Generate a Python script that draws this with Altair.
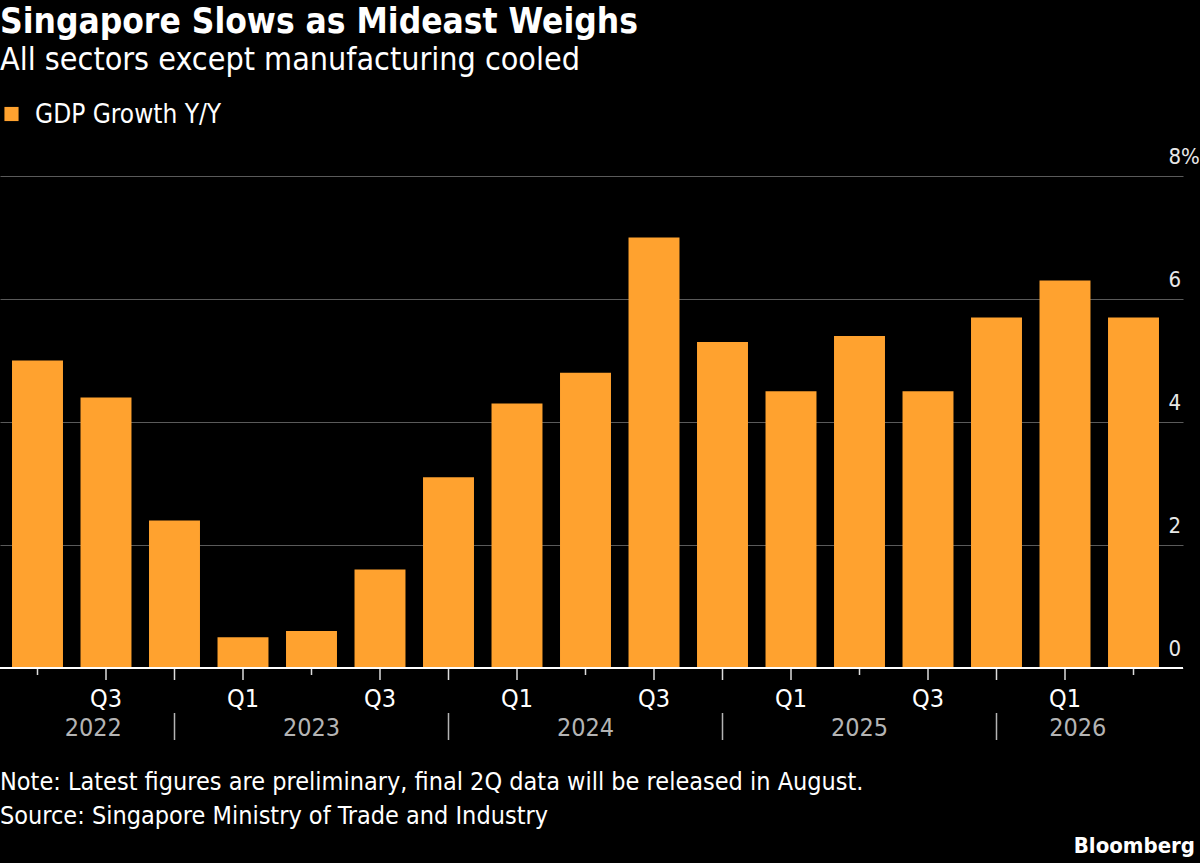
import altair as alt
import pandas as pd

# Quarterly real GDP growth, year over year (%)
years = [2022, 2022, 2022,
         2023, 2023, 2023, 2023,
         2024, 2024, 2024, 2024,
         2025, 2025, 2025, 2025,
         2026, 2026]
quarters = ["Q2", "Q3", "Q4",
            "Q1", "Q2", "Q3", "Q4",
            "Q1", "Q2", "Q3", "Q4",
            "Q1", "Q2", "Q3", "Q4",
            "Q1", "Q2"]
growth = [5.0, 4.4, 2.4,
          0.5, 0.6, 1.6, 3.1,
          4.3, 4.8, 7.0, 5.3,
          4.5, 5.4, 4.5, 5.7,
          6.3, 5.7]

y_ticks = [0, 2, 4, 6, 8]

title = "Singapore Slows as Mideast Weighs"
subtitle = "All sectors except manufacturing cooled"
series_name = "GDP Growth Y/Y"
note = "Note: Latest figures are preliminary, final 2Q data will be released in August."
source = "Source: Singapore Ministry of Trade and Industry"
brand = "Bloomberg"

ORANGE = "#FFA22F"
FONT = "DejaVu Sans Condensed, Liberation Sans Narrow, Roboto, sans-serif"

W, H = 1183, 492
HALF = 0.372  # half bar width in slot units
X_DOMAIN = [-0.5474, 16.7226]

df = pd.DataFrame({"year": years, "quarter": quarters, "growth": growth})
df["i"] = range(len(df))

# Year separators sit on the Q4 slots; year names are centred in each span
seps = df[df["quarter"] == "Q4"]["i"].tolist()
year_rows = []
for y in sorted(set(years)):
    idx = df[df["year"] == y]["i"]
    left = max([s for s in seps if s < idx.min()], default=idx.min() - HALF)
    right = min([s for s in seps if s >= idx.max()], default=idx.max() + HALF)
    if y == years[0]:
        left = idx.min() - HALF
    year_rows.append({"year": str(y), "pos": (left + right) / 2})
year_df = pd.DataFrame(year_rows)
sep_df = pd.DataFrame({"i": seps})

xs = alt.Scale(domain=X_DOMAIN, nice=False, zero=False, padding=0)
ys = alt.Scale(domain=[0, 8], nice=False, padding=0)

bars = alt.Chart(df).transform_calculate(
    x0=f"datum.i - {HALF}", x1=f"datum.i + {HALF}", base="0"
).mark_bar(color=ORANGE, orient="vertical").encode(
    x=alt.X("x0:Q", scale=xs, axis=None),
    x2="x1:Q",
    y=alt.Y("growth:Q", scale=ys, axis=alt.Axis(
        orient="right", values=y_ticks, format="d", grid=True, gridColor="#5a5a5a",
        gridWidth=1.2, domain=False, ticks=False, labelColor="#e8e8e8",
        labelFont=FONT, labelFontSize=22, labelAlign="left",
        labelBaseline="alphabetic", labelPadding=-15, labelOffset=-13,
        labelExpr="datum.value == 8 ? '8%' : datum.label", title=None)),
    y2="base:Q",
)

baseline = alt.Chart(pd.DataFrame({"a": [X_DOMAIN[0]], "b": [X_DOMAIN[1]], "v": [0]})).mark_rule(
    color="#ffffff", strokeWidth=2
).encode(x=alt.X("a:Q", scale=xs), x2="b:Q", y=alt.Y("v:Q", scale=ys))

long_ticks = alt.Chart(df[df["quarter"] != "Q2"]).mark_rule(color="#dddddd", strokeWidth=1.5).encode(
    x=alt.X("i:Q", scale=xs), y=alt.value(H + 1), y2=alt.value(H + 12))
short_ticks = alt.Chart(df[df["quarter"] == "Q2"]).mark_rule(color="#dddddd", strokeWidth=1.5).encode(
    x=alt.X("i:Q", scale=xs), y=alt.value(H + 1), y2=alt.value(H + 7))

q_labels = alt.Chart(df[df["quarter"].isin(["Q1", "Q3"])]).mark_text(
    color="#ffffff", font=FONT, fontSize=25, baseline="alphabetic", align="center"
).encode(x=alt.X("i:Q", scale=xs), y=alt.value(H + 39), text="quarter:N")

year_labels = alt.Chart(year_df).mark_text(
    color="#b4b4b4", font=FONT, fontSize=25, baseline="alphabetic", align="center"
).encode(x=alt.X("pos:Q", scale=xs), y=alt.value(H + 68), text="year:N")

separators = alt.Chart(sep_df).mark_rule(color="#b4b4b4", strokeWidth=1.5).encode(
    x=alt.X("i:Q", scale=xs), y=alt.value(H + 45), y2=alt.value(H + 72))


def text_layer(txt, x, y, size, weight="normal", color="#ffffff", align="left"):
    return alt.Chart(pd.DataFrame({"t": [txt]})).mark_text(
        font=FONT, fontSize=size, fontWeight=weight, color=color,
        align=align, baseline="alphabetic"
    ).encode(x=alt.value(x), y=alt.value(y), text="t:N")


legend_swatch = alt.Chart(pd.DataFrame({"t": [series_name]})).mark_square(
    color=ORANGE, size=200, opacity=1, cornerRadius=3
).encode(x=alt.value(11.5), y=alt.value(-62))

chart = alt.layer(
    bars, baseline, long_ticks, short_ticks, q_labels, year_labels, separators,
    text_layer(title, 0, -143, 35, "bold"),
    text_layer(subtitle, 0, -106, 32),
    legend_swatch,
    text_layer(series_name, 35, -53, 26),
    text_layer(note, 0, 614, 25),
    text_layer(source, 0, 648, 25),
    text_layer(brand, 1195, 677, 22, "bold", align="right"),
).properties(
    width=W, height=H,
    padding={"left": 0, "top": 176, "right": 17, "bottom": 195},
    autosize=alt.AutoSizeParams(type="none"),
    background="#000000",
).configure_view(stroke=None)

chart.save("out.html", embed_options={"renderer": "svg", "actions": False})
